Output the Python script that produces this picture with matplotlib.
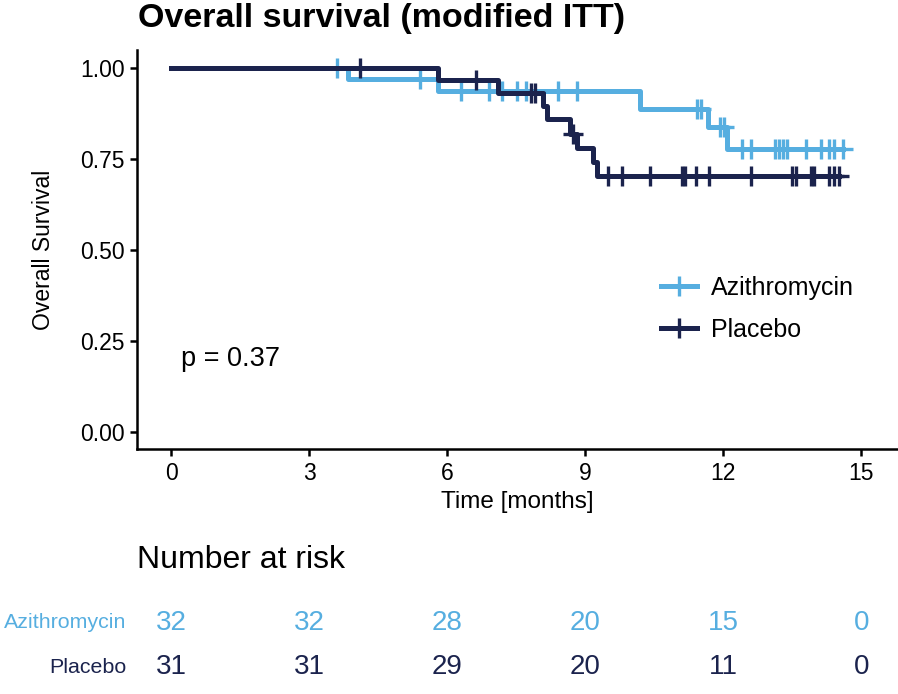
import numpy as np
import matplotlib
matplotlib.use('Agg')
import matplotlib.pyplot as plt
from matplotlib.lines import Line2D

plt.rcParams['font.family'] = ['Liberation Sans', 'DejaVu Sans']

# Kaplan-Meier steps (months, survival)
azi_event_t = [3.85, 5.79, 10.18, 11.68, 12.09]
azi_event_s = [0.969, 0.936, 0.889, 0.837, 0.777]
azi_cens_t = [3.59, 5.40, 6.29, 6.90, 7.18, 7.51, 7.72, 8.40, 8.81, 11.42, 11.51,
              11.92, 12.01, 12.40, 12.61, 13.12, 13.21, 13.29, 13.38, 13.80, 14.13,
              14.31, 14.41, 14.60]

plc_event_t = [5.79, 7.10, 8.07, 8.16, 8.66, 8.83, 9.16, 9.25]
plc_event_s = [0.968, 0.933, 0.896, 0.859, 0.820, 0.781, 0.742, 0.703]
plc_cens_t = [4.09, 6.62, 7.81, 7.90, 8.73, 9.49, 9.80, 10.41, 11.11, 11.16, 11.40,
              11.70, 12.60, 13.50, 13.59, 13.91, 13.98, 14.31, 14.40, 14.51]

# number at risk table
risk_times = [0, 3, 6, 9, 12, 15]
azi_risk = [32, 32, 28, 20, 15, 0]
plc_risk = [31, 31, 29, 20, 11, 0]

c_azi = '#56AEE0'
c_plc = '#1B234D'
LW = 3.6


def surv_at(t, ev_t, ev_s):
    i = np.searchsorted(ev_t, t, side='right')
    return 1.0 if i == 0 else ev_s[i - 1]


def draw_km(ax, ev_t, ev_s, cens_t, color):
    end = max(max(ev_t), max(cens_t))
    xs = [0] + list(ev_t) + [end]
    ys = [1.0] + list(ev_s) + [ev_s[-1]]
    ax.step(xs, ys, where='post', color=color, lw=LW, solid_joinstyle='round')
    cy = [surv_at(t, ev_t, ev_s) for t in cens_t]
    ax.plot(cens_t, cy, ls='none', marker='+', ms=14, mew=2.4, color=color)


fig = plt.figure(figsize=(8.98, 6.94), dpi=100)
ax = fig.add_axes([137 / 898, 1 - 449 / 694, 760 / 898, 399 / 694])

draw_km(ax, azi_event_t, azi_event_s, azi_cens_t, c_azi)
draw_km(ax, plc_event_t, plc_event_s, plc_cens_t, c_plc)

ax.set_xlim(-0.75, 15.78)
ax.set_ylim(-0.048, 1.05)
ax.set_xticks(risk_times)
ax.set_yticks([0, 0.25, 0.5, 0.75, 1.0])
ax.set_yticklabels(['0.00', '0.25', '0.50', '0.75', '1.00'])
for s in ['top', 'right']:
    ax.spines[s].set_visible(False)
for s in ['left', 'bottom']:
    ax.spines[s].set_linewidth(1.8)
ax.tick_params(length=5, width=1.8, labelsize=16.5, pad=4)
ax.set_xlabel('Time [months]', fontsize=17.5, labelpad=5)
ax.set_ylabel('Overall Survival', fontsize=16.5, labelpad=18)
ax.text(0.2, 0.2, 'p = 0.37', fontsize=19.5, va='center', ha='left')

handles = [Line2D([], [], color=c_azi, lw=LW, marker='+', ms=14, mew=2.4),
           Line2D([], [], color=c_plc, lw=LW, marker='+', ms=14, mew=2.4)]
ax.legend(handles, ['Azithromycin', 'Placebo'], loc='center left',
          bbox_to_anchor=(0.66, 0.351), frameon=False, fontsize=18,
          handlelength=1.45, handletextpad=0.55, labelspacing=0.72)

fig.text(138 / 898, 1 - 18 / 694, 'Overall survival (modified ITT)', fontsize=24.5,
         fontweight='bold', ha='left', va='center')

# risk table
rax = fig.add_axes([137 / 898, 1 - 690 / 694, 760 / 898, 90 / 694])
rax.set_xlim(-0.75, 15.78)
rax.set_ylim(-0.5, 1.5)
rax.axis('off')
for t, a, p in zip(risk_times, azi_risk, plc_risk):
    rax.text(t, 1, str(a), color=c_azi, fontsize=20, ha='center', va='center')
    rax.text(t, 0, str(p), color=c_plc, fontsize=20, ha='center', va='center')
rax.text(-0.98, 1, 'Azithromycin', color=c_azi, fontsize=15.4, ha='right', va='center',
         clip_on=False)
rax.text(-0.98, 0, 'Placebo', color=c_plc, fontsize=15.4, ha='right', va='center',
         clip_on=False)
fig.text(137 / 898, 1 - 560 / 694, 'Number at risk', fontsize=23, ha='left', va='center')

fig.savefig('out.png', dpi=100)
